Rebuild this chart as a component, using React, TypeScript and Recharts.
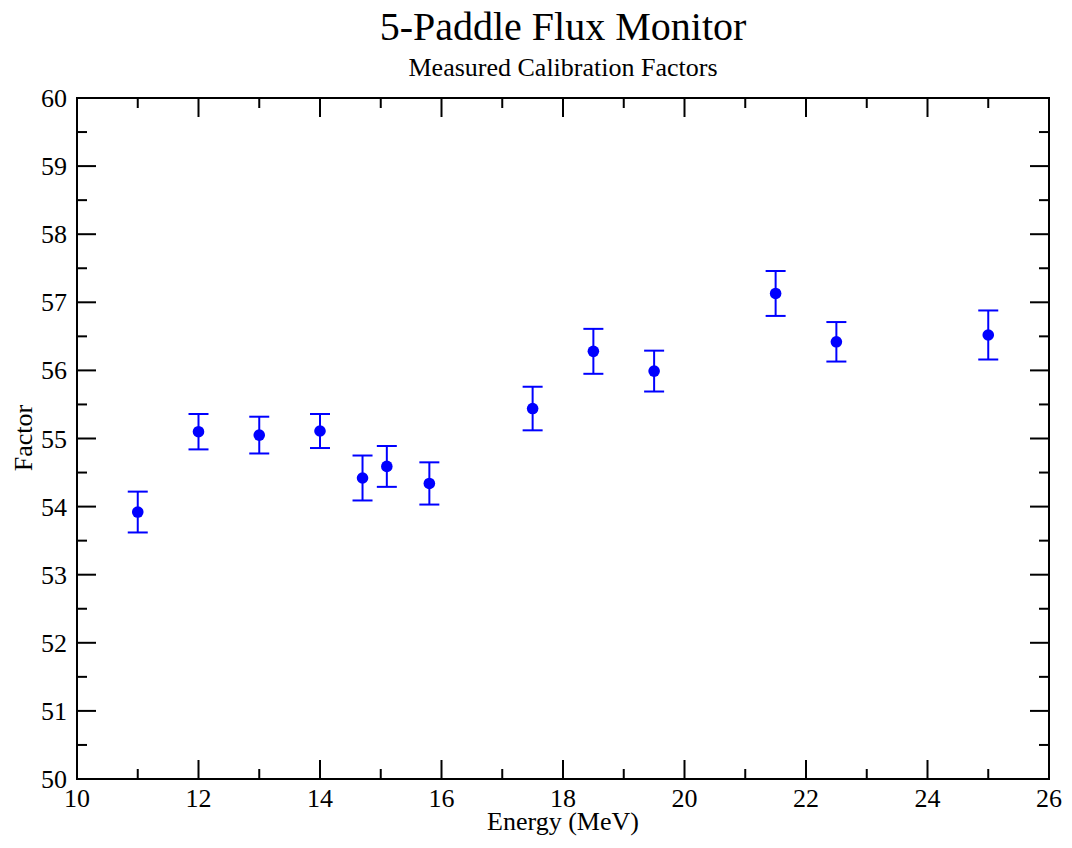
import React from 'react';
import { ScatterChart, Scatter, XAxis, YAxis, ErrorBar } from 'recharts';

const energy = [11, 12, 13, 14, 14.7, 15.1, 15.8, 17.5, 18.5, 19.5, 21.5, 22.5, 25];
const factor = [53.92, 55.1, 55.05, 55.11, 54.42, 54.59, 54.34, 55.44, 56.28, 55.99, 57.13, 56.42, 56.52];
const errors = [0.3, 0.26, 0.27, 0.25, 0.33, 0.3, 0.31, 0.32, 0.33, 0.3, 0.33, 0.29, 0.36];

const xTicks = [10, 11, 12, 13, 14, 15, 16, 17, 18, 19, 20, 21, 22, 23, 24, 25, 26];
const yTicks = [50, 50.5, 51, 51.5, 52, 52.5, 53, 53.5, 54, 54.5, 55, 55.5, 56, 56.5, 57, 57.5, 58, 58.5, 59, 59.5, 60];

const data = energy.map((e, i) => ({ energy: e, factor: factor[i], err: errors[i] }));

const FONT = '"Liberation Serif", "Times New Roman", serif';
const BLUE = '#0000ff';
const MAJOR = 19;
const MINOR = 10;

const W = 1056;
const H = 832;
const MARGIN = { top: 80, right: 5, bottom: 21, left: 9 };
const X_AXIS_H = 40;
const TOP_AXIS_H = 10;
const Y_AXIS_W = 60;
const RIGHT_AXIS_W = 10;
const PLOT_W = W - MARGIN.left - MARGIN.right - Y_AXIS_W - RIGHT_AXIS_W;
const PLOT_H = H - MARGIN.top - MARGIN.bottom - X_AXIS_H - TOP_AXIS_H;

const isMajorX = (v: number) => v % 2 === 0;
const isMajorY = (v: number) => Number.isInteger(v);

const BottomTick = (props: any) => {
  const { x, y, payload } = props;
  const v = payload.value;
  const len = isMajorX(v) ? MAJOR : MINOR;
  const top = y - PLOT_H;
  return (
    <g>
      <line x1={x} y1={y} x2={x} y2={y - len} stroke="#000" strokeWidth={2} />
      <line x1={x} y1={top} x2={x} y2={top + len} stroke="#000" strokeWidth={2} />
      {isMajorX(v) && (
        <text x={x} y={y + 28} textAnchor="middle" fontSize={26} fontFamily={FONT} fill="#000">
          {v}
        </text>
      )}
    </g>
  );
};

const LeftTick = (props: any) => {
  const { x, y, payload } = props;
  const v = payload.value;
  const len = isMajorY(v) ? MAJOR : MINOR;
  const right = x + PLOT_W;
  return (
    <g>
      <line x1={x} y1={y} x2={x + len} y2={y} stroke="#000" strokeWidth={2} />
      <line x1={right} y1={y} x2={right - len} y2={y} stroke="#000" strokeWidth={2} />
      {isMajorY(v) && (
        <text x={x - 10} y={y + 9} textAnchor="end" fontSize={26} fontFamily={FONT} fill="#000">
          {v}
        </text>
      )}
    </g>
  );
};

const Dot = (p: any) => <circle cx={p.cx} cy={p.cy} r={5.8} fill={BLUE} />;

const axisLine = { stroke: '#000', strokeWidth: 2, strokeLinecap: 'square' as const };

export default function App() {
  return (
    <div style={{ position: 'relative', width: W, height: H }}>
      <ScatterChart width={W} height={H} margin={MARGIN}>
        <XAxis
          xAxisId={0}
          dataKey="energy"
          type="number"
          domain={[10, 26]}
          ticks={xTicks}
          interval={0}
          height={X_AXIS_H}
          tickSize={0}
          tickMargin={0}
          tickLine={false}
          axisLine={axisLine}
          tick={<BottomTick />}
        />
        <XAxis
          xAxisId="top"
          orientation="top"
          type="number"
          domain={[10, 26]}
          height={TOP_AXIS_H}
          tickLine={false}
          axisLine={axisLine}
          tick={false}
        />
        <YAxis
          yAxisId={0}
          dataKey="factor"
          type="number"
          domain={[50, 60]}
          ticks={yTicks}
          interval={0}
          width={Y_AXIS_W}
          tickSize={0}
          tickMargin={0}
          tickLine={false}
          axisLine={axisLine}
          tick={<LeftTick />}
        />
        <YAxis
          yAxisId="right"
          orientation="right"
          type="number"
          domain={[50, 60]}
          width={RIGHT_AXIS_W}
          tickLine={false}
          axisLine={axisLine}
          tick={false}
        />
        <Scatter data={data} xAxisId={0} yAxisId={0} fill={BLUE} shape={<Dot />} isAnimationActive={false}>
          <ErrorBar dataKey="err" direction="y" width={10} stroke={BLUE} strokeWidth={2} isAnimationActive={false} />
        </Scatter>
      </ScatterChart>
      <svg
        width={1072}
        height={848}
        style={{ position: 'absolute', left: -8, top: -8, pointerEvents: 'none' }}
      >
        <text x={563} y={40} textAnchor="middle" fontSize={40} fontFamily={FONT} fill="#000">
          5-Paddle Flux Monitor
        </text>
        <text x={563} y={76} textAnchor="middle" fontSize={26} fontFamily={FONT} fill="#000">
          Measured Calibration Factors
        </text>
        <text x={563} y={830} textAnchor="middle" fontSize={26} fontFamily={FONT} fill="#000">
          Energy (MeV)
        </text>
        <text
          x={0}
          y={0}
          transform="translate(32,438) rotate(-90)"
          textAnchor="middle"
          fontSize={26}
          fontFamily={FONT}
          fill="#000"
        >
          Factor
        </text>
      </svg>
    </div>
  );
}
